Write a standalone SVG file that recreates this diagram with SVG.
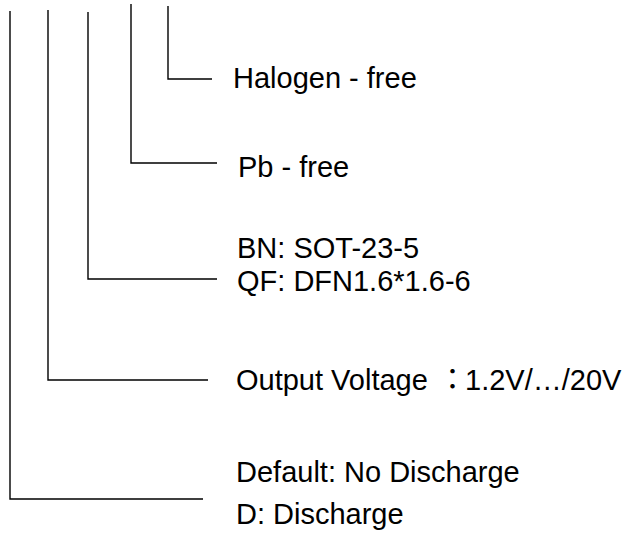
<svg xmlns="http://www.w3.org/2000/svg" width="622" height="540" viewBox="0 0 622 540">
<style>
.c{fill:none;stroke:#000;stroke-width:1.4}
.t{font-family:"Liberation Sans",Arial,"Noto Sans CJK TC",sans-serif;font-size:29px;fill:#000}
.cjk{font-family:"Noto Sans CJK TC","Noto Sans CJK JP",sans-serif}
</style>
<rect width="622" height="540" fill="#fff"/>
<g id="connectors">
<polyline class="c" points="10,11 10,499 203,499"/>
<polyline class="c" points="48,10 48,380 208,380"/>
<polyline class="c" points="88,12 88,279 217,279"/>
<polyline class="c" points="131,4 131,163 217,163"/>
<polyline class="c" points="168,6 168,79 212,79"/>
</g>
<g id="halogen"><text class="t" x="233" y="88">Halogen - free</text></g>
<g id="pb"><text class="t" x="238" y="177">Pb - free</text></g>
<g id="package"><text class="t" x="237" y="258">BN: SOT-23-5</text><text class="t" x="237" y="291">QF: DFN1.6*1.6-6</text></g>
<g id="voltage"><text class="t" x="236" y="390">Output Voltage<tspan class="cjk" x="438">：</tspan><tspan x="465">1.2V/…/20V</tspan></text></g>
<g id="discharge"><text class="t" x="236" y="482">Default: No Discharge</text><text class="t" x="236" y="524">D: Discharge</text></g>
</svg>
